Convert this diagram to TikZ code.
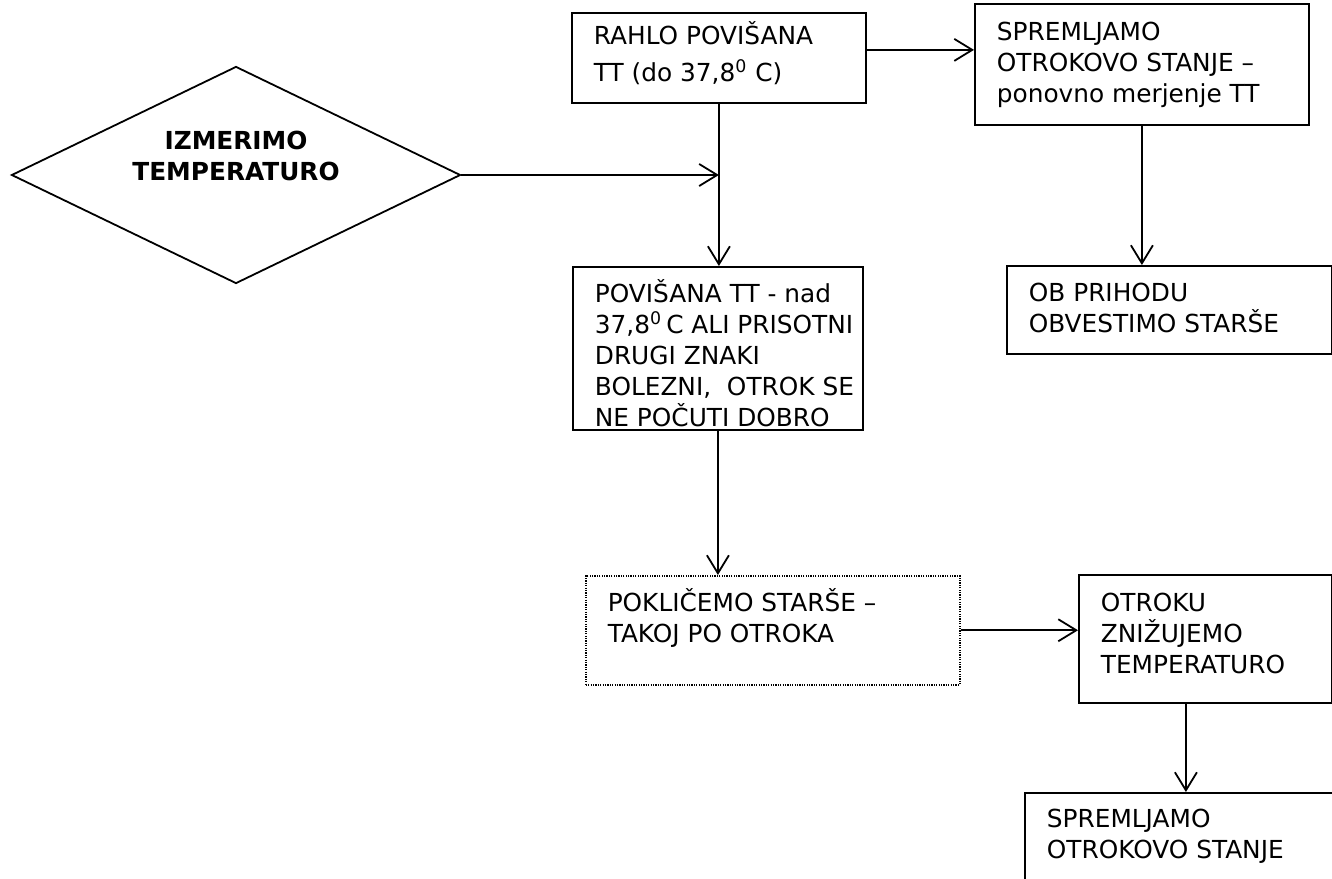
\documentclass[tikz,border=0pt]{standalone}
\usepackage{fontspec}
\setmainfont{DejaVu Sans}
\usepackage{tikz}
\usetikzlibrary{shapes.geometric}
\usetikzlibrary{arrows.meta}
\usetikzlibrary{positioning,calc}

\newcommand{\pisava}{\fontsize{12.4}{15.5}\selectfont}
\newcommand{\vsebina}[4][17.75pt]{\parbox[c][#3][t]{#2}{\pisava\leftskip=11pt\rule{0pt}{#1}#4}}

\tikzset{
    okvir/.style={draw, line width=0.9pt, anchor=north west, inner sep=0pt},
    pikcast/.style={okvir, line width=0.75pt, dash pattern=on 0.6pt off 0.6pt},
    odlocitev/.style={draw, diamond, line width=0.9pt, inner sep=0pt, minimum width=224.5pt, minimum height=108.5pt},
    puscica/.style={-{Straight Barb[length=9pt,width=11pt]}, line width=0.9pt}
}

\begin{document}
\begin{tikzpicture}[x=0.5pt, y=-0.5pt]
    \useasboundingbox (0,0) rectangle (1332,878);
    \clip (0,0) rectangle (1332,878);

    \node[odlocitev, label={[yshift=9.5pt, align=center, font=\pisava\bfseries]center:IZMERIMO\\TEMPERATURO}] (merjenje) at (236,175) {};
    \node[okvir] (rahlo) at (571,12) {\vsebina[15.75pt]{147pt}{45pt}{RAHLO POVIŠANA\\[3pt]TT (do 37,8\textsuperscript{0}~C)}};
    \node[okvir] (spremljamo) at (974,3) {\vsebina[18.25pt]{167pt}{60.5pt}{SPREMLJAMO\\OTROKOVO STANJE –\\ponovno merjenje TT}};
    \node[okvir] (povisana) at (572,266) {\vsebina{145pt}{81.5pt}{POVIŠANA TT - nad\\37,8\textsuperscript{0}\,C ALI PRISOTNI\\DRUGI ZNAKI\\BOLEZNI,~ OTROK SE\\NE POČUTI DOBRO}};
    \node[okvir] (obvestimo) at (1006,265) {\vsebina{162.5pt}{44pt}{OB PRIHODU\\OBVESTIMO STARŠE}};
    \node[pikcast] (poklicemo) at (585,575) {\vsebina{187pt}{54.5pt}{POKLIČEMO STARŠE –\\TAKOJ PO OTROKA}};
    \node[okvir] (znizujemo) at (1078,574) {\vsebina[18.25pt]{126.5pt}{64pt}{OTROKU\\ZNIŽUJEMO\\TEMPERATURO}};
    \node[okvir] (stanje) at (1024,792) {\vsebina[17.5pt]{200pt}{75pt}{SPREMLJAMO\\OTROKOVO STANJE}};

    \coordinate (r1) at ([yshift=4pt]rahlo.east);
    \coordinate (z1) at ([xshift=-9.75pt]znizujemo.south);

    \path[puscica] (merjenje.east) edge (merjenje.east -| rahlo.south);
    \path[puscica] (rahlo.south) edge (rahlo.south |- povisana.north);
    \path[puscica] (r1) edge (r1 -| spremljamo.west);
    \path[puscica] (spremljamo.south) edge (spremljamo.south |- obvestimo.north);
    \path[puscica] (povisana.south) edge (povisana.south |- poklicemo.north);
    \path[puscica] (poklicemo.east) edge (poklicemo.east -| znizujemo.west);
    \path[puscica] (z1) edge (z1 |- stanje.north);
\end{tikzpicture}
\end{document}
